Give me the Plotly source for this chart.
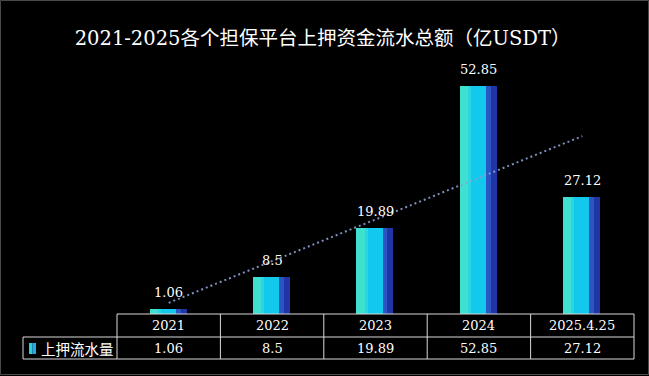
import numpy as np
import plotly.graph_objects as go

# ---- data ----
categories = ["2021", "2022", "2023", "2024", "2025.4.25"]
values = [1.06, 8.5, 19.89, 52.85, 27.12]
series_name = "上押流水量"
title_text = "2021-2025各个担保平台上押资金流水总额（亿USDT）"

W, H = 649, 376
ML, MR, MT, MB = 117, 15, 60, 62
plot_h = H - MT - MB
px_per_unit = 4.32
ymax = plot_h / px_per_unit

x_idx = list(range(len(categories)))
fig = go.Figure()

# bar bands (offset, width, colour) in category units
bands = [
    (-0.184, 0.078, "#3FE0D0"),
    (-0.106, 0.029, "#2AD6E2"),
    (-0.077, 0.145, "#12C8EC"),
    (0.068, 0.048, "#2B55C2"),
    (0.116, 0.058, "#2036A6"),
]
for off, w, col in bands:
    fig.add_trace(go.Bar(
        x=x_idx, y=values, offset=off, width=w,
        marker=dict(color=col, line=dict(width=0)),
        showlegend=False, hoverinfo="skip",
    ))

# linear trendline
coef = np.polyfit(np.arange(1, len(values) + 1), values, 1)
trend_y = np.polyval(coef, np.arange(1, len(values) + 1))
fig.add_trace(go.Scatter(
    x=x_idx, y=trend_y, mode="lines",
    line=dict(color="rgba(140,158,212,0.9)", width=2, dash="2px,3px"),
    showlegend=False, hoverinfo="skip",
))

num_font = dict(family="DejaVu Serif, Noto Sans CJK SC", size=13, color="white")

annotations = []
# value labels above bars
for i, v in enumerate(values):
    annotations.append(dict(
        x=i, y=v, xref="x", yref="y", text=str(v), showarrow=False,
        yanchor="bottom", yshift=7, font=num_font,
    ))

def py(p):
    return (H - MB - p) / plot_h

# table texts
for i, (c, v) in enumerate(zip(categories, values)):
    annotations.append(dict(x=i, y=py(325.5), xref="x", yref="paper", text=c,
                            showarrow=False, yanchor="middle", font=num_font))
    annotations.append(dict(x=i, y=py(348), xref="x", yref="paper", text=str(v),
                            showarrow=False, yanchor="middle", font=num_font))

def pxp(p):
    return (p - ML) / (W - ML - MR)

annotations.append(dict(x=pxp(39), y=py(348), xref="paper", yref="paper",
                        text=series_name, showarrow=False, xanchor="left",
                        yanchor="middle",
                        font=dict(family="Noto Sans CJK SC", size=14.5, color="white")))

shapes = []
lc = "#d9d9d9"
def hline(x0, x1, yp):
    shapes.append(dict(type="line", xref="paper", yref="paper",
                       x0=pxp(x0), x1=pxp(x1), y0=py(yp), y1=py(yp),
                       line=dict(color=lc, width=1)))
def vline(xp, y0, y1):
    shapes.append(dict(type="line", xref="paper", yref="paper",
                       x0=pxp(xp), x1=pxp(xp), y0=py(y0), y1=py(y1),
                       line=dict(color=lc, width=1)))

col_w = (W - ML - MR) / len(categories)
hline(ML, W - MR, 314)
hline(23, W - MR, 337)
hline(23, W - MR, 359)
vline(23, 337, 359)
for k in range(len(categories) + 1):
    vline(ML + k * col_w, 314, 359)

# legend key
shapes.append(dict(type="rect", xref="paper", yref="paper",
                   x0=pxp(29), x1=pxp(32.5), y0=py(354), y1=py(343),
                   fillcolor="#2AD0D8", line=dict(width=0)))
shapes.append(dict(type="rect", xref="paper", yref="paper",
                   x0=pxp(32.5), x1=pxp(36), y0=py(354), y1=py(343),
                   fillcolor="#2AA8E6", line=dict(width=0)))
# outer border
shapes.append(dict(type="rect", xref="paper", yref="paper",
                   x0=pxp(0.5), x1=pxp(648.5), y0=py(374.5), y1=py(0.5),
                   line=dict(color="#4a4a4a", width=1)))

fig.update_layout(
    width=W, height=H,
    margin=dict(l=ML, r=MR, t=MT, b=MB, pad=0),
    paper_bgcolor="black", plot_bgcolor="black",
    barmode="overlay", bargap=0,
    title=dict(text=title_text, x=0.497, xanchor="center",
               y=1 - 38 / H, yanchor="middle", yref="container",
               font=dict(family="DejaVu Serif, Noto Sans CJK SC", size=19.5, color="white")),
    xaxis=dict(range=[-0.5, len(categories) - 0.5], visible=False, fixedrange=True),
    yaxis=dict(range=[0, ymax], visible=False, fixedrange=True),
    annotations=annotations, shapes=shapes,
    showlegend=False,
)

fig.write_html(
    "out.html",
    config={"displayModeBar": False},
    post_script="document.body.style.margin='0';document.body.style.overflow='hidden';document.body.style.background='black';",
)
